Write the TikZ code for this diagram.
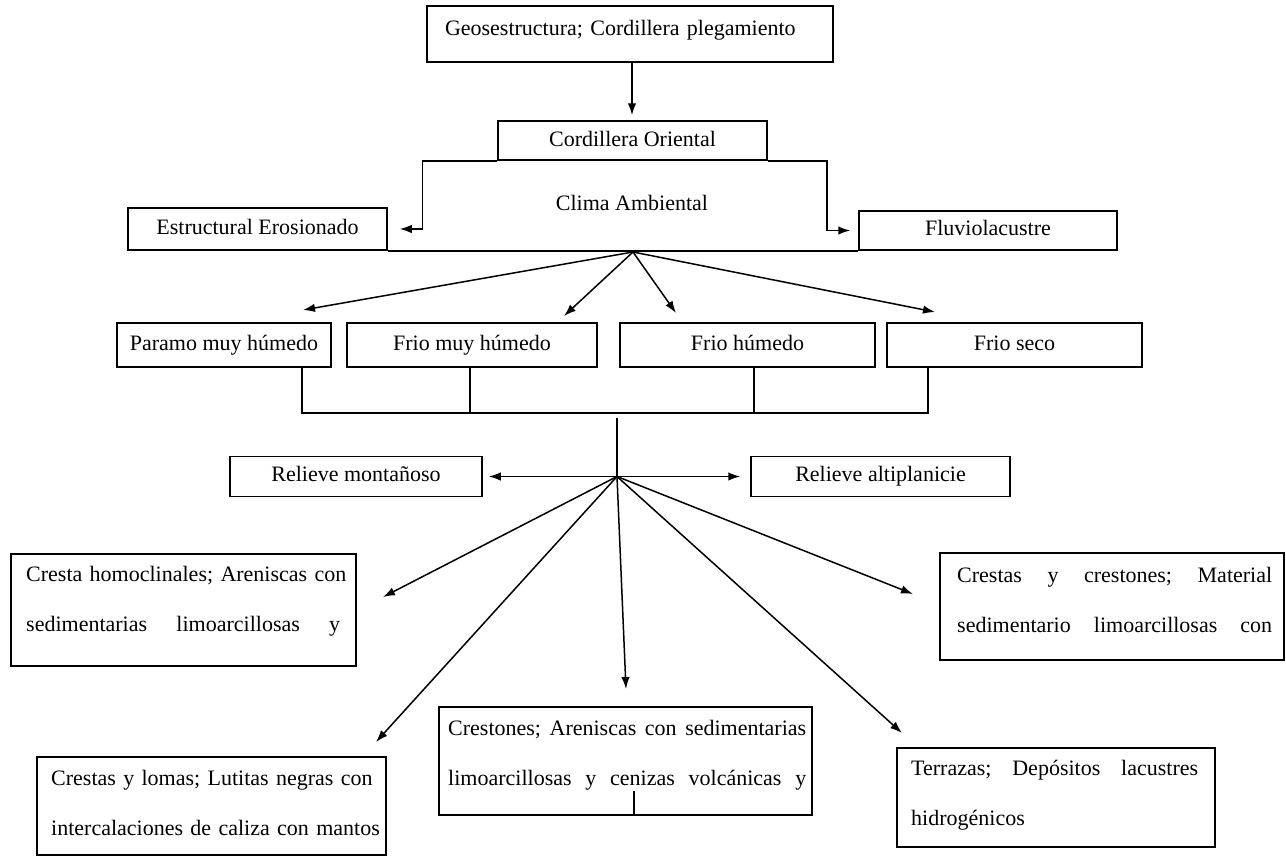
\documentclass[tikz,border=0pt]{standalone}
\usepackage{fontspec}
\setmainfont{Liberation Serif}
\usetikzlibrary{arrows.meta,calc}
\newcommand{\bxfont}{\fontsize{22}{26}\selectfont}
\newcommand{\mlfont}{\fontsize{22}{50.5}\selectfont}
\newcommand{\jline}[2]{\hbox to #1{#2}}
\begin{document}
\begin{tikzpicture}[x=1pt,y=-1pt,
 box/.style={draw,line width=1.5pt,inner sep=0pt,font=\bxfont,text height=15pt,text depth=5pt},
 txt/.style={inner sep=0pt,font=\bxfont},
 ml/.style={inner sep=0pt,font=\mlfont,align=left,anchor=base west},
 tip/.style={-{Latex[length=12pt,width=8.5pt]}},
 arr/.style={line width=1.5pt,tip},
 darr/.style={line width=1.5pt,{Latex[length=12pt,width=8.5pt]}-{Latex[length=12pt,width=8.5pt]}},
 ln/.style={line width=1.5pt}]
\useasboundingbox[fill=white] (0,0) rectangle (1286,857);

% top
\node[box,minimum width=406pt,minimum height=56pt,text width=370pt,align=left,text depth=13pt] (geo) at (630,34) {Geosestructura; Cordillera plegamiento};
\node[box,minimum width=269pt,minimum height=39pt,text depth=3pt] (cord) at (632.5,140.5) {Cordillera Oriental};
\draw[arr] ([xshift=2pt]geo.south) -- ([xshift=-0.5pt,yshift=5pt]cord.north);
\node[txt] (clima) at (632,203) {Clima Ambiental};
\node[box,minimum width=259pt,minimum height=42pt] (estr) at (257.5,229) {Estructural Erosionado};
\node[box,minimum width=258pt,minimum height=39pt] (fluv) at (988,230.5) {Fluviolacustre};
\draw[arr] (cord.south west) -- ++(-75,0) |- ([xshift=12pt]estr.east);
\draw[arr] (cord.south east) -- ++(59,0) |- ([xshift=-8pt]fluv.west);
\draw[ln] (estr.south east) -- (fluv.south west);

% climate row
\node[box,minimum width=214pt,minimum height=44pt] (paramo) at (224,345) {Paramo muy húmedo};
\node[box,minimum width=250pt,minimum height=44pt] (friomh) at (472,345) {Frio muy húmedo};
\node[box,minimum width=255pt,minimum height=44pt] (frioh) at (747.5,345) {Frio húmedo};
\node[box,minimum width=255pt,minimum height=44pt] (frios) at (1014.5,345) {Frio seco};
\coordinate (h1) at (633,252);
\coordinate (t1) at (303,310);
\coordinate (t2) at (564,316);
\coordinate (t3) at (676,313);
\coordinate (t4) at (935,312);
\draw[arr] (h1) -- (t1);
\draw[arr] (h1) -- (t2);
\draw[arr] (h1) -- (t3);
\draw[arr] (h1) -- (t4);

\coordinate (bl) at (302,413);
\coordinate (br) at (928,413);
\draw[ln] ([xshift=78pt]paramo.south) -- (bl) -- (br) -- ([xshift=-86.5pt]frios.south);
\draw[ln] ([xshift=-2pt]friomh.south) -- ++(0,46);
\draw[ln] ([xshift=6.5pt]frioh.south) -- ++(0,46);
\coordinate (vtop) at (617,418);
\coordinate (h2) at (617,476.5);
\draw[ln] (vtop) -- (h2);

% relief
\node[box,minimum width=252pt,minimum height=40pt] (relm) at (356,476.5) {Relieve montañoso};
\node[box,minimum width=259pt,minimum height=40pt] (rela) at (880.5,476.5) {Relieve altiplanicie};
\draw[darr] ([xshift=6pt]relm.east) -- ([xshift=-10pt]rela.west);

% bottom boxes
\node[box,minimum width=345pt,minimum height=112pt] (cresta) at (183.5,610) {};
\node[ml,text width=314pt] (crestaT) at (26,581) {\jline{314pt}{Cresta\hfill\ homoclinales;\hfill\ Areniscas\hfill\ con}\\\jline{314pt}{sedimentarias\hfill\ limoarcillosas\hfill\ y}};

\node[box,minimum width=349pt,minimum height=98pt] (lomas) at (211.5,806) {};
\node[ml,text width=320pt] (lomasT) at (51,785) {\jline{320pt}{Crestas\hfill\ y\hfill\ lomas;\hfill\ Lutitas\hfill\ negras\hfill\ con}\\\jline{320pt}{intercalaciones\hfill\ de\hfill\ caliza\hfill\ con\hfill\ mantos}};

\node[box,minimum width=373pt,minimum height=108pt] (crestones) at (625.5,761) {};
\node[ml,text width=358pt] (crestonesT) at (448,735) {\jline{358pt}{Crestones;\hfill\ Areniscas\hfill\ con\hfill\ sedimentarias}\\\jline{358pt}{limoarcillosas\hfill\ y\hfill\ cenizas\hfill\ volcánicas\hfill\ y}};
\coordinate (tk) at (634,791);
\draw[ln] (tk) -- (tk |- crestones.south);

\node[box,minimum width=318pt,minimum height=99pt] (terrazas) at (1056,797.5) {};
\node[ml,text width=287pt] (terrazasT) at (911,775) {\jline{287pt}{Terrazas;\hfill\ Depósitos\hfill\ lacustres}\\hidrogénicos};

\node[box,minimum width=344pt,minimum height=107pt] (crestcr) at (1112,606.5) {};
\node[ml,text width=315pt] (crestcrT) at (957,582) {\jline{315pt}{Crestas\hfill\ y\hfill\ crestones;\hfill\ Material}\\\jline{315pt}{sedimentario\hfill\ limoarcillosas\hfill\ con}};

\coordinate (b1) at (383,597);
\coordinate (b2) at (376,742);
\coordinate (b3) at (626,689);
\coordinate (b4) at (902,733);
\coordinate (b5) at (913,594);
\draw[arr] (h2) -- (b1);
\draw[arr] (h2) -- (b2);
\draw[arr] (h2) -- (b3);
\draw[arr] (h2) -- (b4);
\draw[arr] (h2) -- (b5);
\end{tikzpicture}
\end{document}
